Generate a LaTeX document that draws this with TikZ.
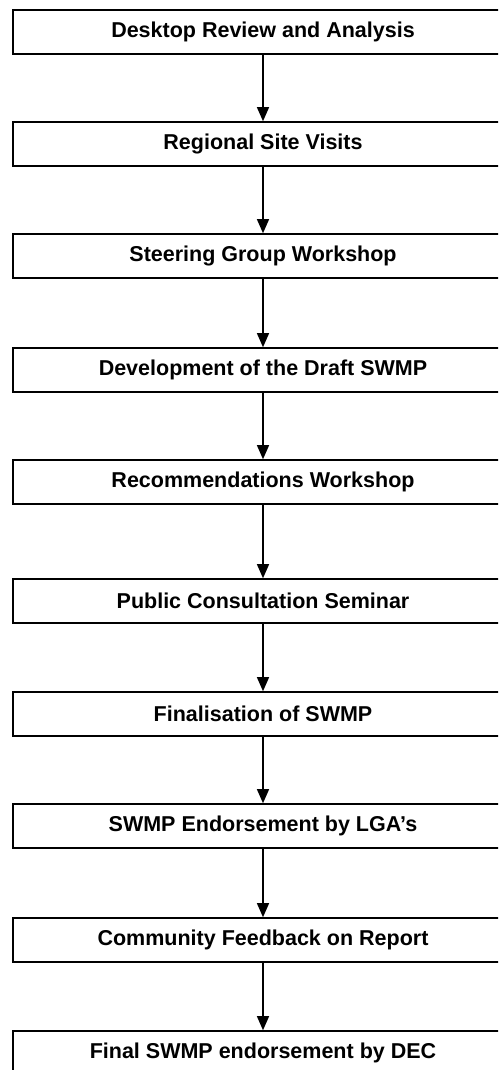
\documentclass[tikz,border=0pt]{standalone}
\usepackage{fontspec}
\setmainfont{Liberation Sans}
\usetikzlibrary{arrows.meta}
\begin{document}
\begin{tikzpicture}[x=1pt,y=1pt,
  stepbox/.style={draw=black, line width=1.6pt, fill=white, rectangle,
    minimum width=500pt, minimum height=44pt, inner sep=0pt,
    font=\fontsize{21.5}{24}\selectfont\bfseries},
  flow/.style={line width=1.3pt, -{Triangle[length=14pt,width=12pt]}}]
\path[use as bounding box, clip] (0,0) rectangle (498,-1070);
\fill[white] (0,0) rectangle (498,-1070);
\node[stepbox] (n1) at (263,-32) {Desktop Review and Analysis};
\node[stepbox] (n2) at (263,-144) {Regional Site Visits};
\node[stepbox] (n3) at (263,-256) {Steering Group Workshop};
\node[stepbox] (n4) at (263,-370) {Development of the Draft SWMP};
\node[stepbox] (n5) at (263,-482) {Recommendations Workshop};
\node[stepbox] (n6) at (263,-601) {Public Consultation Seminar};
\node[stepbox] (n7) at (263,-714) {Finalisation of SWMP};
\node[stepbox] (n8) at (263,-826) {SWMP Endorsement by LGA’s};
\node[stepbox] (n9) at (263,-940) {Community Feedback on Report};
\node[stepbox] (n10) at (263,-1053) {Final SWMP endorsement by DEC};
\foreach \a/\b in {n1/n2,n2/n3,n3/n4,n4/n5,n5/n6,n6/n7,n7/n8,n8/n9,n9/n10}
  \draw[flow] (\a.south) -- (\b.north);
\end{tikzpicture}
\end{document}
